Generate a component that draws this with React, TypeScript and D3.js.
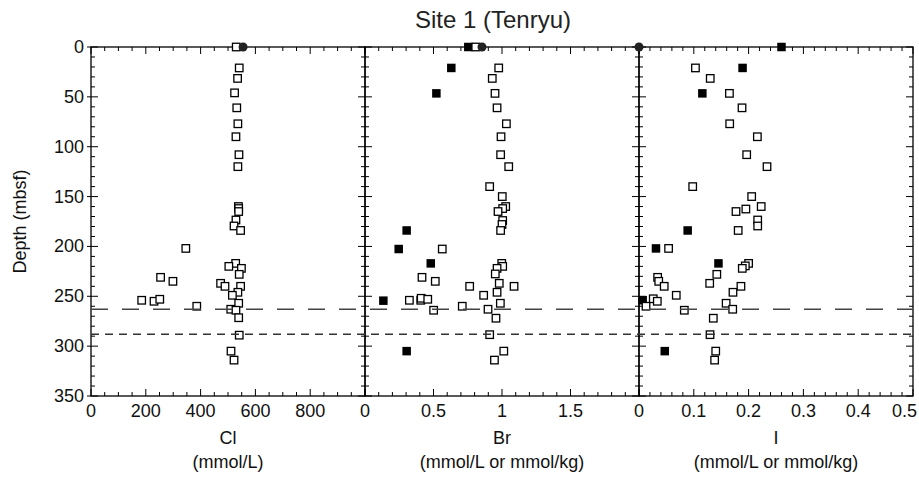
import React from "react";
import * as d3 from "d3";

// [depth (mbsf), value]
const clOpen: [number, number][] = [
  [0, 530], [21, 541], [31.5, 535], [46, 524], [61, 532], [77, 536], [90, 529], [108, 540], [120, 536],
  [160, 538], [162, 539], [165, 539], [173.5, 529], [179.5, 522], [184, 546], [202, 346], [217, 528],
  [220, 503], [222, 549], [228, 541], [231, 254], [235, 299], [237, 473], [240, 489], [240, 546],
  [246, 536], [249, 516], [254, 185], [255, 230], [253, 251], [257, 539], [260, 386], [263, 510],
  [264, 529], [271.5, 539], [289, 541], [305, 511], [314, 522],
];
const clFilled: [number, number][] = [];
const clCircle: [number, number][] = [[0, 555]];

const brOpen: [number, number][] = [
  [0, 0.808], [21, 0.976], [31.5, 0.929], [46.5, 0.949], [61, 0.964], [77, 1.032], [90, 0.993],
  [108, 0.99], [120, 1.049], [140, 0.91], [150, 1.002], [160, 1.027], [162, 1.005], [165, 0.971],
  [174, 1.005], [178, 1.0], [184, 0.99], [202.6, 0.564], [217, 0.998], [220, 1.005], [222, 0.964],
  [227.6, 0.951], [231, 0.416], [235, 0.513], [237, 0.98], [240, 0.764], [240, 1.088], [246, 0.964],
  [249, 0.866], [254, 0.324], [254, 0.407], [252, 0.41], [253, 0.458], [257, 0.988], [264, 0.501],
  [260, 0.71], [263, 0.898], [272, 0.956], [288.5, 0.91], [305, 1.013], [314, 0.945],
];
const brFilled: [number, number][] = [
  [0, 0.754], [21, 0.63], [46.5, 0.521], [184, 0.304], [202.6, 0.246], [217, 0.48], [254.4, 0.134], [305, 0.304],
];
const brCircle: [number, number][] = [[0, 0.854]];

const iOpen: [number, number][] = [
  [21, 0.103], [31.5, 0.13], [46.5, 0.165], [61, 0.188], [77, 0.1655], [90, 0.216], [108, 0.1965],
  [120, 0.2336], [140, 0.098], [150, 0.2056], [160, 0.223], [162.5, 0.195], [165, 0.177], [173.5, 0.2166],
  [179.5, 0.2166], [184, 0.181], [202, 0.054], [217, 0.2], [219.5, 0.194], [222, 0.1885], [228, 0.142],
  [231, 0.034], [235, 0.036], [237, 0.129], [240, 0.046], [240, 0.186], [246, 0.1715], [249, 0.068],
  [252.5, 0.026], [255, 0.0334], [257, 0.159], [260, 0.0128], [263, 0.171], [264, 0.0827], [272, 0.1356],
  [288.5, 0.1296], [305, 0.14], [314, 0.138],
];
const iFilled: [number, number][] = [
  [0, 0.26], [21, 0.189], [46.5, 0.1156], [184, 0.0888], [202, 0.031], [217, 0.145], [254, 0.0067], [305, 0.047],
];
const iCircle: [number, number][] = [[0, 0]];

const depthTicks = [0, 50, 100, 150, 200, 250, 300, 350];
const clTickLabels = [0, 200, 400, 600, 800];
const brTickLabels = [0, 0.5, 1, 1.5];
const iTickLabels = [0, 0.1, 0.2, 0.3, 0.4, 0.5];
const boundaryDepths = [263, 288];

const W = 919;
const H = 477;
const TOP = 47;
const BOTTOM = 396;
const FONT = "'Liberation Sans', Arial, Helvetica, sans-serif";
const FS = 18;

interface PanelDef {
  name: string;
  unit: string;
  domain: [number, number];
  range: [number, number];
  major: number;
  minor: number;
  labels: number[];
  open: [number, number][];
  filled: [number, number][];
  circle: [number, number][];
}

const panels: PanelDef[] = [
  { name: "Cl", unit: "(mmol/L)", domain: [0, 1000], range: [91, 365], major: 200, minor: 50, labels: clTickLabels, open: clOpen, filled: clFilled, circle: clCircle },
  { name: "Br", unit: "(mmol/L or mmol/kg)", domain: [0, 2], range: [365, 639], major: 0.5, minor: 0.1, labels: brTickLabels, open: brOpen, filled: brFilled, circle: brCircle },
  { name: "I", unit: "(mmol/L or mmol/kg)", domain: [0, 0.5], range: [639, 913], major: 0.1, minor: 0.02, labels: iTickLabels, open: iOpen, filled: iFilled, circle: iCircle },
];

const y = d3.scaleLinear().domain([0, 350]).range([TOP, BOTTOM]);

function ticksBetween(lo: number, hi: number, step: number): number[] {
  const n = Math.round((hi - lo) / step);
  return d3.range(n + 1).map((i) => lo + i * step);
}

function isMajor(v: number, step: number) {
  const r = v / step;
  return Math.abs(r - Math.round(r)) < 1e-6;
}

const MAJ = 7;
const MIN = 4;

function Panel({ p, first }: { p: PanelDef; first: boolean }) {
  const x = d3.scaleLinear().domain(p.domain).range(p.range);
  const [x0, x1] = p.range;
  const xt = ticksBetween(p.domain[0], p.domain[1], p.minor);
  const yt = ticksBetween(0, 350, 10);
  const sq = 7.5;
  const fsq = 8.5;
  return (
    <g>
      {xt.map((v, i) => {
        const len = isMajor(v, p.major) ? MAJ : MIN;
        const xx = x(v);
        return (
          <g key={"xt" + i}>
            <line x1={xx} x2={xx} y1={TOP} y2={TOP + len} stroke="#000" strokeWidth={1} />
            <line x1={xx} x2={xx} y1={BOTTOM} y2={BOTTOM - len} stroke="#000" strokeWidth={1} />
          </g>
        );
      })}
      {yt.map((v, i) => {
        const major = isMajor(v, 50);
        const len = major ? MAJ : MIN;
        const yy = y(v);
        return (
          <g key={"yt" + i}>
            <line x1={first && major ? x0 - 4 : x0} x2={x0 + len} y1={yy} y2={yy} stroke="#000" strokeWidth={1} />
            <line x1={x1} x2={x1 - len} y1={yy} y2={yy} stroke="#000" strokeWidth={1} />
          </g>
        );
      })}
      <rect x={x0} y={TOP} width={x1 - x0} height={BOTTOM - TOP} fill="none" stroke="#000" strokeWidth={1.3} />
      {p.labels.map((v, i) => {
        const xx = x(v);
        const nearEdge = xx > W - 14;
        return (
          <text key={"xl" + i} x={nearEdge ? W - 2 : xx} y={411} textAnchor={nearEdge ? "end" : "middle"} dominantBaseline="central" fontSize={FS} fontFamily={FONT} fill="#111">
            {String(v)}
          </text>
        );
      })}
      <text x={(x0 + x1) / 2} y={438} textAnchor="middle" dominantBaseline="central" fontSize={FS} fontFamily={FONT} fill="#111">
        {p.name}
      </text>
      <text x={(x0 + x1) / 2} y={462} textAnchor="middle" dominantBaseline="central" fontSize={FS} fontFamily={FONT} fill="#111">
        {p.unit}
      </text>
      {p.filled.map(([d, v], i) => (
        <rect key={"f" + i} x={x(v) - fsq / 2} y={y(d) - fsq / 2} width={fsq} height={fsq} fill="#000" />
      ))}
      {p.open.map(([d, v], i) => (
        <rect key={"o" + i} x={x(v) - sq / 2} y={y(d) - sq / 2} width={sq} height={sq} fill="#fff" stroke="#000" strokeWidth={1.3} />
      ))}
      {p.circle.map(([d, v], i) => (
        <circle key={"c" + i} cx={x(v)} cy={y(d)} r={4.5} fill="#222" />
      ))}
    </g>
  );
}

export default function App() {
  const left = panels[0].range[0];
  const right = panels[2].range[1];
  return (
    <svg width={W} height={H} style={{ position: "absolute", left: 0, top: 0, background: "#fff" }}>
      <rect x={0} y={0} width={W} height={H} fill="#fff" />
      <text x={493} y={19} textAnchor="middle" dominantBaseline="central" fontSize={24} fontFamily={FONT} fill="#222">
        Site 1 (Tenryu)
      </text>
      {depthTicks.map((v) => (
        <text key={"yl" + v} x={84} y={y(v)} textAnchor="end" dominantBaseline="central" fontSize={FS} fontFamily={FONT} fill="#111">
          {v}
        </text>
      ))}
      <text
        transform={`translate(20, ${(TOP + BOTTOM) / 2}) rotate(-90)`}
        textAnchor="middle"
        dominantBaseline="central"
        fontSize={FS}
        fontFamily={FONT}
        fill="#111"
      >
        Depth (mbsf)
      </text>
      {panels.map((p, i) => (
        <Panel key={p.name} p={p} first={i === 0} />
      ))}
      <line x1={left} x2={right} y1={y(boundaryDepths[0])} y2={y(boundaryDepths[0])} stroke="#444" strokeWidth={1.6} strokeDasharray="17,14" />
      <line x1={left} x2={right} y1={y(boundaryDepths[1])} y2={y(boundaryDepths[1])} stroke="#333" strokeWidth={1.4} strokeDasharray="8,6" />
    </svg>
  );
}
